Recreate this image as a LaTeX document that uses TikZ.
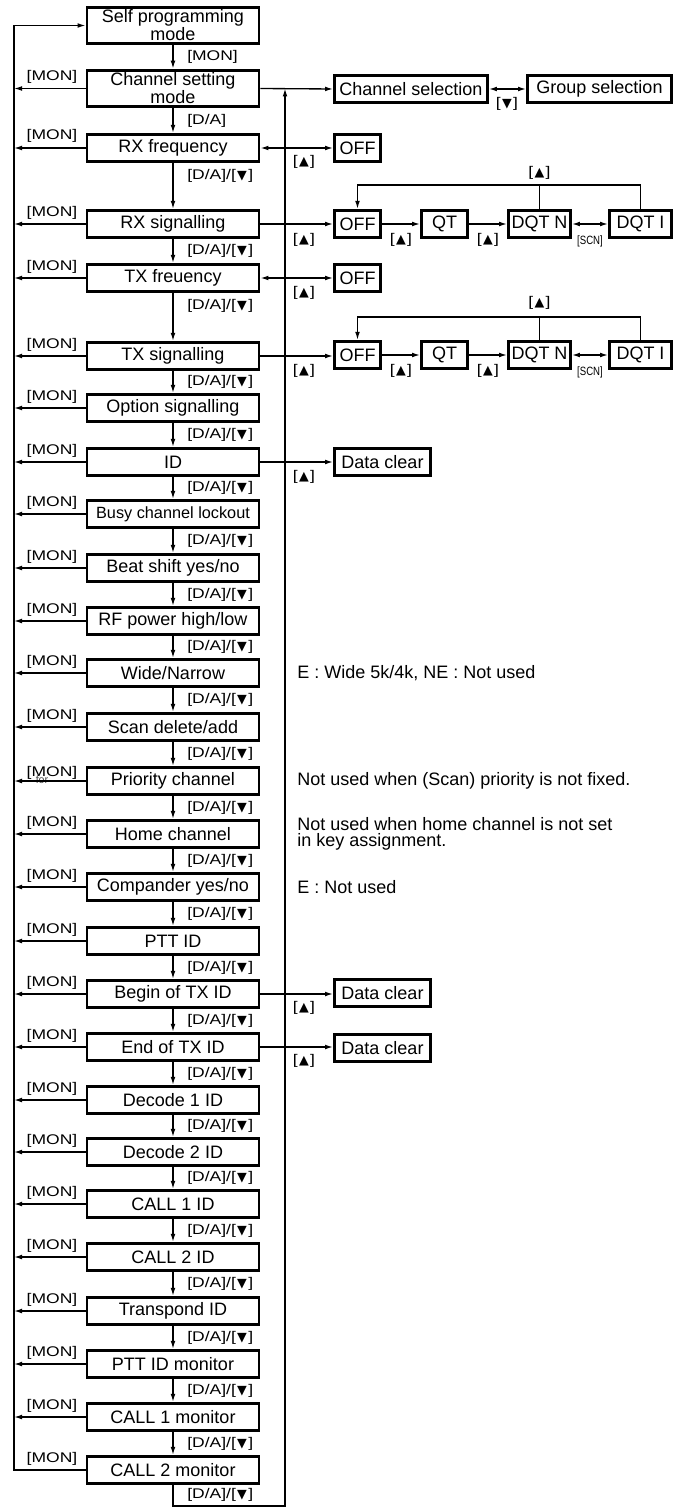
\documentclass[tikz,border=0pt]{standalone}
\usepackage{fontspec}
\setmainfont{Liberation Sans}
\newfontfamily\lblfont[FakeStretch=1.25]{Liberation Sans}
\newfontfamily\scnfont[FakeStretch=0.8]{Liberation Sans}
\newfontfamily\symfont{DejaVu Sans}
\newcommand{\tup}{\kern1pt{\symfont\fontsize{9.5}{10}\selectfont ▲}\kern1pt}
\newcommand{\tdn}{\kern1pt{\symfont\fontsize{9.5}{10}\selectfont ▼}\kern1pt}
\usetikzlibrary{arrows.meta,calc}
\begin{document}
\begin{tikzpicture}[x=0.75pt,y=-0.75pt,
  box/.style={draw, line width=2.2pt, minimum width=129pt, minimum height=20.5pt, inner sep=0pt, font=\fontsize{13.5}{11.2}\selectfont, align=center},
  boxtwo/.style={box, minimum height=27.5pt},
  sbox/.style={draw, line width=2.2pt, minimum height=20.5pt, inner sep=0pt, font=\fontsize{13.5}{10}\selectfont},
  lbl/.style={font=\lblfont\fontsize{10.5}{12}\selectfont, inner sep=0pt},
  scn/.style={font=\scnfont\fontsize{9}{10}\selectfont, inner sep=0pt},
  note/.style={font=\fontsize{13.5}{11.5}\selectfont, inner sep=0pt, align=left, anchor=west},
  ln/.style={line width=1pt},
  arr/.style={line width=1pt, -{Latex[length=6pt,width=3.6pt]}},
  dbl/.style={line width=1pt, {Latex[length=6pt,width=3.6pt]}-{Latex[length=6pt,width=3.6pt]}}]
\useasboundingbox (0,0) rectangle (679,1509);
\fill[white] (0,0) rectangle (679,1509);

% main column
\node[boxtwo] (b1) at (173,25.5) {Self programming\\mode};
\node[boxtwo] (b2) at (173,88.5) {Channel setting\\mode};
\node[box] (b3) at (173,148) {RX frequency};
\node[box] (b4) at (173,224) {RX signalling};
\node[box] (b5) at (173,278) {TX freuency};
\node[box] (b6) at (173,356) {TX signalling};
\node[box] (b7) at (173,408) {Option signalling};
\node[box] (b8) at (173,462) {ID};
\node[box] (b9) at (173,514) {\fontsize{12.2}{12}\selectfont Busy channel lockout};
\node[box] (b10) at (173,568) {Beat shift yes/no};
\node[box] (b11) at (173,621) {RF power high/low};
\node[box] (b12) at (173,673) {Wide/Narrow};
\node[box] (b13) at (173,727) {Scan delete/add};
\node[box] (b14) at (173,781) {Priority channel};
\node[box] (b15) at (173,834) {Home channel};
\node[box] (b16) at (173,887) {Compander yes/no};
\node[box] (b17) at (173,941) {PTT ID};
\node[box] (b18) at (173,994) {Begin of TX ID};
\node[box] (b19) at (173,1047) {End of TX ID};
\node[box] (b20) at (173,1100) {Decode 1 ID};
\node[box] (b21) at (173,1152) {Decode 2 ID};
\node[box] (b22) at (173,1204) {CALL 1 ID};
\node[box] (b23) at (173,1257) {CALL 2 ID};
\node[box] (b24) at (173,1311) {Transpond ID};
\node[box] (b25) at (173,1364) {PTT ID monitor};
\node[box] (b26) at (173,1417) {CALL 1 monitor};
\node[box] (b27) at (173,1470) {CALL 2 monitor};

\coordinate (L) at (14,0);
\coordinate (M) at (52,0);
\coordinate (B1) at (173,1506);
\coordinate (B2) at (285,1506);

% down arrows
\foreach \i/\j in {1/2,2/3,3/4,4/5,5/6,6/7,7/8,8/9,9/10,10/11,11/12,12/13,13/14,14/15,15/16,16/17,17/18,18/19,19/20,20/21,21/22,22/23,23/24,24/25,25/26,26/27}
  \draw[arr] (b\i.south) -- (b\j.north);
\path (b1.south) -- (b2.north) node[midway,lbl,anchor=west,xshift=10.5pt] (t1) {[MON]};
\path (b2.south) -- (b3.north) node[midway,lbl,anchor=west,xshift=10.5pt] (t2) {[D/A]};
\path (b3.south) -- (b4.north) node[pos=0.28,lbl,anchor=west,xshift=10.5pt] (t3) {[D/A]/[\tdn]};
\path (b5.south) -- (b6.north) node[pos=0.27,lbl,anchor=west,xshift=10.5pt] (t5) {[D/A]/[\tdn]};
\foreach \i/\j in {4/5,6/7,7/8,8/9,9/10,10/11,11/12,12/13,13/14,14/15,15/16,16/17,17/18,18/19,19/20,20/21,21/22,22/23,23/24,24/25,25/26,26/27}
  \path (b\i.south) -- (b\j.north) node[midway,lbl,anchor=west,xshift=10.5pt] (t\i) {[D/A]/[\tdn]};
\path (b27.south) -- (B1) node[midway,lbl,anchor=west,xshift=10.5pt,yshift=0.5pt] (t27) {[D/A]/[\tdn]};

% "for" remnant
\node[font=\fontsize{8}{8}\selectfont, text=black!70, inner sep=0pt] (fortxt) at (42,780) {for};

% left [MON] arrows
\foreach \i in {2,...,26}{
  \draw[arr] (b\i.west) -- (b\i.west -| L);
}
\foreach \i in {2,...,13,15,16,...,27}{
  \node[lbl, anchor=base] (m\i) at ($(b\i.west -| M)+(0,-8)$) {[MON]};
}
\node[lbl, anchor=base] (m14) at ($(b14.west -| M)+(0,-5)$) {[MON]};

% left loop
\draw[arr] (b27.west) -- (b27.west -| L) -- (b1.west -| L) -- (b1.west);
% bottom/right loop
\draw[arr] (b27.south) -- (B1) -- (B2) -- (B2 |- b2.east);

% right side boxes
\node[sbox, minimum width=114.75pt] (chsel) at (411,89) {Channel selection};
\node[sbox, minimum width=108pt] (grpsel) at (599.5,89) {Group selection};
\node[sbox, minimum width=34.5pt] (off1) at (357.5,148) {OFF};
\node[sbox, minimum width=34.5pt] (off2) at (357.5,224) {OFF};
\node[sbox, minimum width=34.5pt] (qt2) at (444.5,224) {QT};
\node[sbox, minimum width=46.5pt] (dqn2) at (539.5,224) {DQT N};
\node[sbox, minimum width=46.5pt] (dqi2) at (640.5,224) {DQT I};
\node[sbox, minimum width=34.5pt] (off3) at (357.5,278) {OFF};
\node[sbox, minimum width=34.5pt] (off4) at (357.5,355) {OFF};
\node[sbox, minimum width=34.5pt] (qt4) at (444.5,355) {QT};
\node[sbox, minimum width=46.5pt] (dqn4) at (539.5,355) {DQT N};
\node[sbox, minimum width=46.5pt] (dqi4) at (640.5,355) {DQT I};
\node[sbox, minimum width=72pt] (dc1) at (382.5,462) {Data clear};
\node[sbox, minimum width=72pt] (dc2) at (382.5,993) {Data clear};
\node[sbox, minimum width=72pt] (dc3) at (382.5,1048) {Data clear};

\draw[arr] (b2.east) -- (chsel.west);
\draw[dbl] (chsel.east) -- (grpsel.west);
\node[lbl] (tg) at (507,104) {[\tdn]};

\draw[dbl] (b3.east) -- (off1.west);
\node[lbl] (u3) at (304,162) {[\tup]};

\draw[arr] (b4.east) -- (off2.west);
\node[lbl] (u4) at (304,240) {[\tup]};
\draw[arr] (off2) -- (qt2);
\node[lbl] (u4a) at (401,240) {[\tup]};
\draw[arr] (qt2) -- (dqn2);
\node[lbl] (u4b) at (488,240) {[\tup]};
\draw[dbl] (dqn2) -- (dqi2);
\node[scn] (s4) at (590,241) {[SCN]};
\coordinate (F2) at (0,185);
\draw[arr] (dqi2.north) -- (dqi2.north |- F2) -- (off2.north |- F2) -- (off2.north);
\draw[ln] (dqn2.north) -- (dqn2.north |- F2);
\node[lbl] (u4c) at (539.5,173) {[\tup]};

\draw[dbl] (b5.east) -- (off3.west);
\node[lbl] (u5) at (304,293) {[\tup]};

\draw[arr] (b6.east) -- (off4.west |- b6.east);
\node[lbl] (u6) at (304,371) {[\tup]};
\draw[arr] (off4) -- (qt4);
\node[lbl] (u6a) at (401,371) {[\tup]};
\draw[arr] (qt4) -- (dqn4);
\node[lbl] (u6b) at (488,371) {[\tup]};
\draw[dbl] (dqn4) -- (dqi4);
\node[scn] (s6) at (590,372) {[SCN]};
\coordinate (F4) at (0,317);
\draw[arr] (dqi4.north) -- (dqi4.north |- F4) -- (off4.north |- F4) -- (off4.north);
\draw[ln] (dqn4.north) -- (dqn4.north |- F4);
\node[lbl] (u6c) at (539.5,303) {[\tup]};

\draw[arr] (b8.east) -- (dc1.west);
\node[lbl] (u8) at (304,477) {[\tup]};
\draw[arr] (b18.east) -- (dc2.west |- b18.east);
\node[lbl] (u18) at (304,1008) {[\tup]};
\draw[arr] (b19.east) -- (dc3.west |- b19.east);
\node[lbl] (u19) at (304,1061) {[\tup]};

% notes
\node[note] (n12) at (297,673) {E : Wide 5k/4k, NE : Not used};
\node[note] (n14) at (297,781) {Not used when (Scan) priority is not fixed.};
\node[note] (n15) at (297,834) {Not used when home channel is not set\\in key assignment.};
\node[note] (n16) at (297,887) {E : Not used};
\end{tikzpicture}
\end{document}
